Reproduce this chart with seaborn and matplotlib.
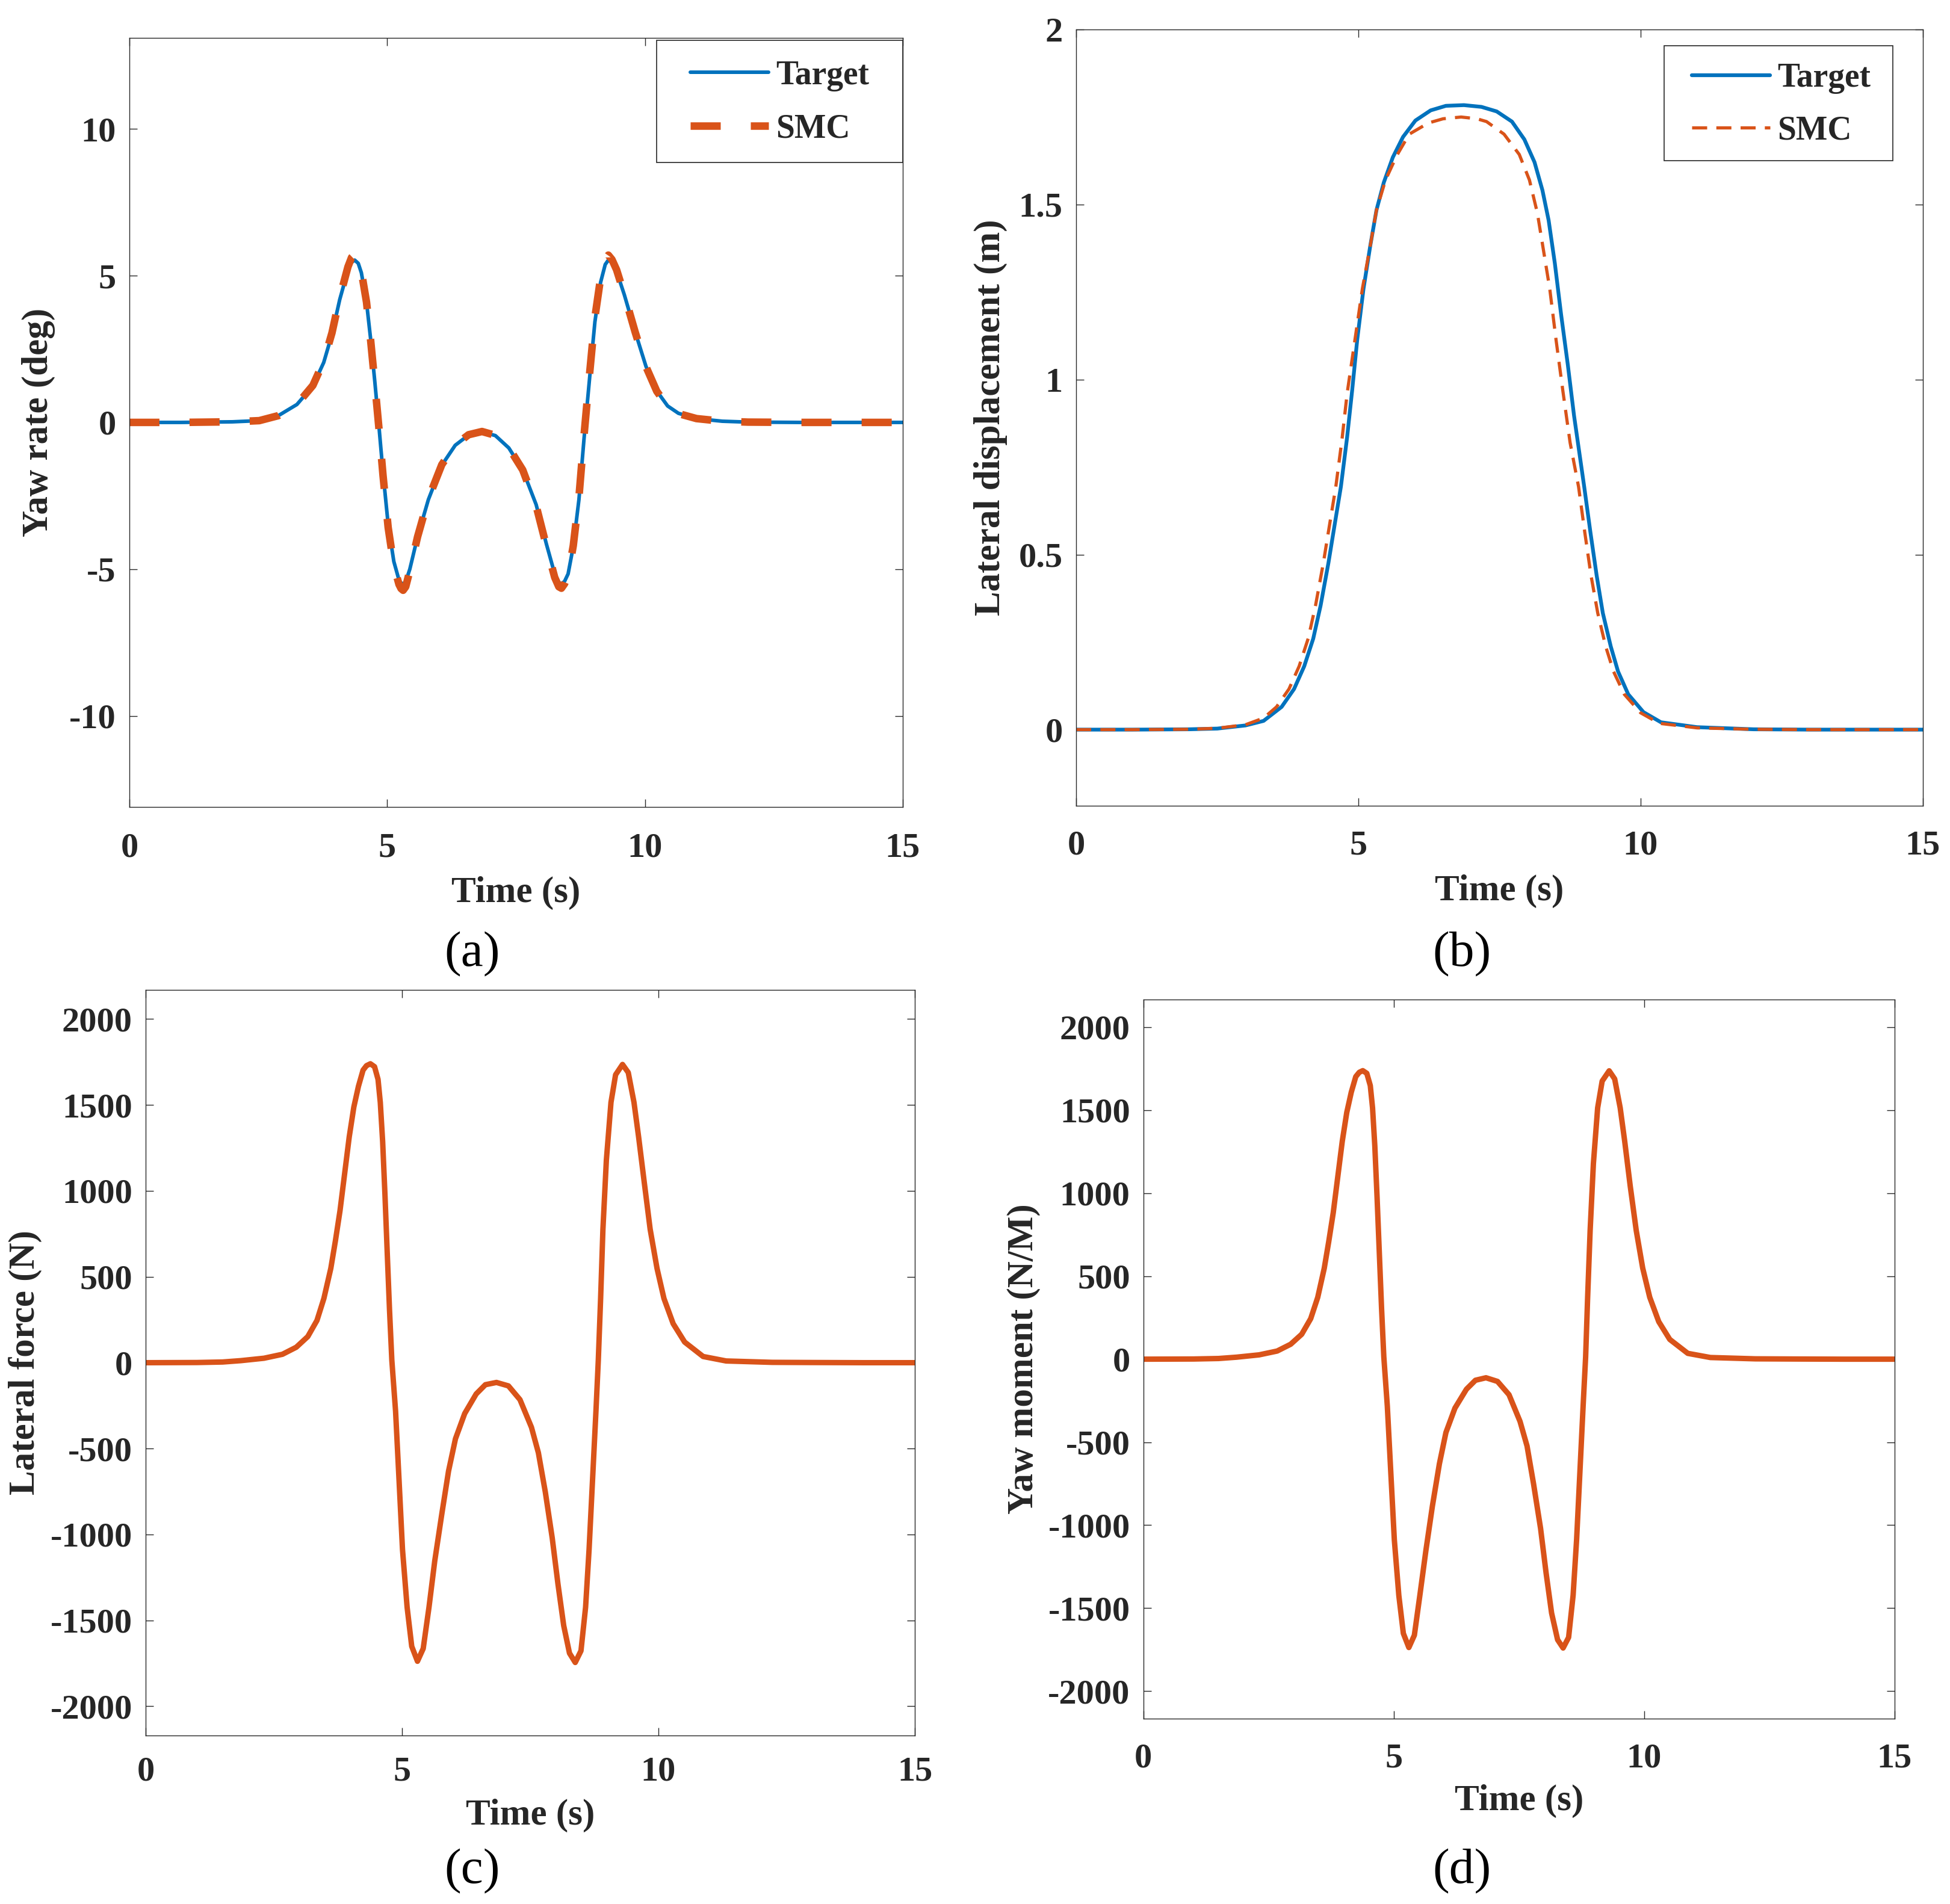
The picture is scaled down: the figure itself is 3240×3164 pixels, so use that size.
import numpy as np
import matplotlib
matplotlib.use('Agg')
import matplotlib.pyplot as plt
import seaborn as sns
from matplotlib.ticker import FixedLocator, FixedFormatter
from matplotlib.patches import Rectangle

# (a) yaw rate (deg)
t_yaw = [0, 1, 2, 2.52, 2.89, 3.25, 3.56, 3.77, 3.93, 4.08, 4.24, 4.31, 4.37, 4.44, 4.50,
         4.60, 4.68, 4.76, 4.84, 4.92, 5.02, 5.13, 5.23, 5.27, 5.31, 5.36, 5.44, 5.59, 5.80,
         6.06, 6.32, 6.58, 6.84, 7.10, 7.36, 7.63, 7.89, 8.09, 8.25, 8.33, 8.38, 8.44, 8.51,
         8.61, 8.72, 8.82, 8.93, 9.03, 9.14, 9.23, 9.29, 9.36, 9.45, 9.60, 9.81, 10.02, 10.23,
         10.44, 10.65, 11.0, 11.5, 12, 13, 14, 15]
yaw_target = [0, 0, 0.02, 0.06, 0.23, 0.61, 1.24, 2.04, 3.0, 4.18, 5.19, 5.45, 5.53, 5.42, 5.1,
              4.1, 2.84, 1.41, -0.11, -1.71, -3.48, -4.74, -5.37, -5.47, -5.5, -5.43, -5.0, -3.9, -2.63,
              -1.46, -0.78, -0.43, -0.32, -0.45, -0.87, -1.62, -2.80, -4.15, -5.16, -5.45, -5.5, -5.42, -5.16,
              -4.23, -2.63, -0.53, 1.57, 3.43, 4.77, 5.38, 5.53, 5.45, 5.15, 4.35, 3.09, 1.91, 1.07,
              0.56, 0.31, 0.13, 0.04, 0.01, 0, 0, 0]
yaw_smc = [0, 0, 0.02, 0.06, 0.23, 0.61, 1.26, 2.08, 3.05, 4.25, 5.3, 5.62, 5.72, 5.55, 5.15,
           4.1, 2.8, 1.35, -0.18, -1.8, -3.58, -4.88, -5.52, -5.66, -5.72, -5.6, -5.05, -3.9, -2.6,
           -1.44, -0.77, -0.42, -0.31, -0.44, -0.86, -1.62, -2.84, -4.22, -5.28, -5.6, -5.65, -5.5, -5.2,
           -4.2, -2.55, -0.42, 1.72, 3.58, 4.92, 5.55, 5.7, 5.55, 5.2, 4.36, 3.08, 1.9, 1.06,
           0.55, 0.3, 0.13, 0.04, 0.01, 0, 0, 0]

# (b) lateral displacement (m)
t_lat = [0, 1, 2, 2.5, 3.0, 3.32, 3.64, 3.86, 4.04, 4.20, 4.33, 4.47, 4.58, 4.69, 4.80, 4.89,
         4.98, 5.09, 5.21, 5.32, 5.45, 5.61, 5.79, 6.01, 6.28, 6.55, 6.87, 7.18, 7.45, 7.72,
         7.94, 8.12, 8.26, 8.37, 8.48, 8.59, 8.71, 8.82, 9.00, 9.11, 9.22, 9.33, 9.47, 9.60,
         9.78, 10.05, 10.36, 11, 12, 13, 15]
lat_target = [0, 0, 0.001, 0.003, 0.012, 0.025, 0.065, 0.116, 0.181, 0.260, 0.354, 0.477, 0.586,
              0.694, 0.835, 0.97, 1.115, 1.259, 1.382, 1.484, 1.563, 1.635, 1.693, 1.740, 1.769,
              1.782, 1.784, 1.779, 1.766, 1.737, 1.686, 1.621, 1.541, 1.455, 1.332, 1.187, 1.042,
              0.897, 0.694, 0.564, 0.441, 0.333, 0.238, 0.166, 0.101, 0.050, 0.021, 0.007, 0.001,
              0, 0]
t_lat_smc = [0, 1, 2, 2.5, 3.0, 3.32, 3.55, 3.77, 3.95, 4.11, 4.24, 4.38, 4.49, 4.60, 4.71,
             4.80, 4.94, 5.07, 5.21, 5.32, 5.48, 5.68, 5.90, 6.24, 6.50, 6.82, 7.10, 7.27, 7.58,
             7.85, 8.03, 8.17, 8.28, 8.39, 8.50, 8.62, 8.75, 8.90, 9.01, 9.12, 9.24, 9.38, 9.52,
             9.71, 10.0, 10.33, 11, 12, 13, 15]
lat_smc = [0, 0, 0.001, 0.004, 0.014, 0.033, 0.065, 0.116, 0.181, 0.26, 0.354, 0.477, 0.586,
           0.694, 0.83, 0.96, 1.115, 1.259, 1.382, 1.484, 1.570, 1.640, 1.701, 1.733, 1.745,
           1.750, 1.745, 1.737, 1.701, 1.643, 1.570, 1.476, 1.368, 1.259, 1.115, 0.970, 0.820,
           0.694, 0.564, 0.441, 0.333, 0.238, 0.166, 0.101, 0.048, 0.018, 0.005, 0.001, 0, 0]

# (c) lateral force (N)
t_force = [0, 1, 1.5, 1.858, 2.307, 2.667, 2.936, 3.161, 3.340, 3.475, 3.610, 3.700, 3.789,
           3.879, 3.969, 4.059, 4.149, 4.239, 4.306, 4.382, 4.463, 4.531, 4.575, 4.621, 4.666,
           4.710, 4.755, 4.800, 4.873, 4.941, 5.008, 5.098, 5.188, 5.300, 5.412, 5.525, 5.637,
           5.772, 5.906, 6.041, 6.221, 6.445, 6.625, 6.841, 7.074, 7.299, 7.523, 7.658, 7.793,
           7.928, 8.040, 8.152, 8.265, 8.377, 8.489, 8.579, 8.647, 8.714, 8.781, 8.827, 8.872,
           8.917, 8.984, 9.074, 9.164, 9.299, 9.411, 9.523, 9.613, 9.725, 9.838, 9.972, 10.107,
           10.287, 10.511, 10.871, 11.320, 12.218, 13, 14, 15]
force = [0, 1, 4, 12, 26, 49, 90, 152, 246, 374, 549, 710, 884,
         1099, 1314, 1488, 1609, 1703, 1729, 1740, 1723, 1649, 1515, 1287, 978,
         643, 307, 15, -282, -685, -1087, -1423, -1651, -1738, -1664, -1423, -1154,
         -886, -631, -443, -296, -182, -128, -115, -135, -215, -376, -524, -752,
         -1020, -1288, -1530, -1691, -1745, -1677, -1423, -1087, -685, -282, 15, 374,
         777, 1179, 1515, 1676, 1736, 1689, 1515, 1314, 1045, 777, 549, 374,
         227, 120, 36, 10, 2, 1, 0, 0]

# (d) yaw moment (N/M)
t_moment = [0, 1, 1.5, 1.86, 2.31, 2.67, 2.94, 3.16, 3.34, 3.48, 3.61, 3.70, 3.79,
            3.88, 3.97, 4.06, 4.15, 4.24, 4.31, 4.38, 4.46, 4.53, 4.575, 4.62, 4.665,
            4.71, 4.755, 4.80, 4.87, 4.94, 5.01, 5.10, 5.19, 5.30, 5.41, 5.52, 5.64,
            5.77, 5.91, 6.04, 6.22, 6.45, 6.63, 6.84, 7.07, 7.30, 7.52, 7.66, 7.79,
            7.93, 8.04, 8.15, 8.27, 8.38, 8.49, 8.58, 8.65, 8.715, 8.78, 8.83, 8.87,
            8.92, 8.985, 9.07, 9.16, 9.30, 9.41, 9.52, 9.61, 9.72, 9.84, 9.97, 10.11,
            10.29, 10.51, 10.87, 11.32, 12.22, 13, 14, 15]
moment = [0, 1, 4, 12, 26, 49, 90, 150, 244, 372, 547, 708, 882,
          1097, 1312, 1486, 1608, 1702, 1728, 1738, 1722, 1648, 1514, 1286, 977,
          642, 306, 14, -283, -686, -1088, -1424, -1652, -1737, -1663, -1422, -1153,
          -885, -630, -442, -295, -181, -127, -112, -134, -214, -375, -523, -751,
          -1019, -1287, -1529, -1690, -1740, -1676, -1422, -1086, -684, -281, 14, 373,
          776, 1178, 1514, 1675, 1737, 1688, 1514, 1313, 1044, 776, 548, 373,
          226, 119, 35, 10, 2, 1, 0, 0]

blue = '#0072BD'
orange = '#D95319'
ink = '#262626'

sns.set_style('ticks')
plt.rcParams['font.family'] = ['Liberation Serif', 'DejaVu Serif']
plt.rcParams['font.weight'] = 'bold'
plt.rcParams['axes.unicode_minus'] = False
plt.rcParams['lines.scale_dashes'] = False

fig = plt.figure(figsize=(32.41, 31.64), dpi=100)
fig.patch.set_facecolor('white')

ax_a = fig.add_axes([0.0663, 0.5762, 0.3965, 0.4039])
ax_b = fig.add_axes([0.5517, 0.5768, 0.4341, 0.4077])
ax_c = fig.add_axes([0.0747, 0.0885, 0.3943, 0.3916])
ax_d = fig.add_axes([0.5862, 0.0973, 0.3851, 0.3777])

sns.lineplot(x=t_yaw, y=yaw_target, ax=ax_a, color=blue, linewidth=4.3, label='Target', estimator=None)
sns.lineplot(x=t_yaw, y=yaw_smc, ax=ax_a, color=orange, linewidth=9, linestyle=(0, (36, 36)),
             label='SMC', estimator=None)

sns.lineplot(x=t_lat, y=lat_target, ax=ax_b, color=blue, linewidth=4.5, label='Target', estimator=None)
sns.lineplot(x=t_lat_smc, y=lat_smc, ax=ax_b, color=orange, linewidth=3.8, linestyle=(0, (18, 11)),
             label='SMC', estimator=None)

sns.lineplot(x=t_force, y=force, ax=ax_c, color=orange, linewidth=6.5, estimator=None)
sns.lineplot(x=t_moment, y=moment, ax=ax_d, color=orange, linewidth=6.5, estimator=None)

ylims = [(-13.1, 13.1), (-0.2175, 2.0), (-2170, 2170), (-2166, 2166)]
yticks = [[-10, -5, 0, 5, 10], [0, 0.5, 1, 1.5, 2],
          [-2000, -1500, -1000, -500, 0, 500, 1000, 1500, 2000],
          [-2000, -1500, -1000, -500, 0, 500, 1000, 1500, 2000]]
ytick_labels = [['-10', '-5', '0', '5', '10'], ['0', '0.5', '1', '1.5', '2'],
                ['-2000', '-1500', '-1000', '-500', '0', '500', '1000', '1500', '2000'],
                ['-2000', '-1500', '-1000', '-500', '0', '500', '1000', '1500', '2000']]
ylabels = ['Yaw rate (deg)', 'Lateral displacement (m)', 'Lateral force (N)', 'Yaw moment (N/M)']
ylabel_x = [-0.096, -0.081, -0.135, -0.137]
xlabel_y = [-0.0897, -0.088, -0.0845, -0.0907]
xpads = [31, 29, 25, 29]

for i, ax in enumerate([ax_a, ax_b, ax_c, ax_d]):
    ax.set_xlim(0, 15)
    ax.set_ylim(*ylims[i])
    ax.xaxis.set_major_locator(FixedLocator([0, 5, 10, 15]))
    ax.xaxis.set_major_formatter(FixedFormatter(['0', '5', '10', '15']))
    ax.yaxis.set_major_locator(FixedLocator(yticks[i]))
    ax.yaxis.set_major_formatter(FixedFormatter(ytick_labels[i]))
    ax.tick_params(axis='both', direction='in', length=9.4, width=1.0, color=ink,
                   labelsize=42, labelcolor=ink, top=True, right=True)
    ax.tick_params(axis='x', pad=xpads[i])
    ax.tick_params(axis='y', pad=16)
    for lab in ax.get_xticklabels() + ax.get_yticklabels():
        lab.set_fontweight('bold')
    for sp in ax.spines.values():
        sp.set_visible(True)
        sp.set_color(ink)
        sp.set_linewidth(1.0)
    ax.set_xlabel('Time (s)', fontsize=44, fontweight='bold', color=ink)
    ax.set_ylabel(ylabels[i], fontsize=44, fontweight='bold', color=ink)
    ax.xaxis.set_label_coords(0.5, xlabel_y[i])
    ax.yaxis.set_label_coords(ylabel_x[i], 0.5)

# legends: frameless entries plus a drawn box, to match the wider padding
for ax, box, anchor, spacing in [(ax_a, (0.6817, 0.838, 0.3183, 0.159), (0.725, 0.916), 0.67),
                                 (ax_b, (0.6946, 0.8307, 0.2702, 0.1483), (0.7269, 0.9034), 0.63)]:
    ax.add_patch(Rectangle(box[:2], box[2], box[3], transform=ax.transAxes, facecolor='white',
                           edgecolor=ink, linewidth=1.2, zorder=4, clip_on=False))
    leg = ax.legend(loc='center left', bbox_to_anchor=anchor, borderaxespad=0, borderpad=0,
                    fontsize=40, frameon=False, handlelength=2.34, handletextpad=0.22,
                    labelspacing=spacing)
    leg.set_zorder(6)
    for txt in leg.get_texts():
        txt.set_fontweight('bold')
        txt.set_color(ink)

for lbl, x, y in [('(a)', 0.2422, 0.4987), ('(b)', 0.7495, 0.4987),
                  ('(c)', 0.2422, 0.0173), ('(d)', 0.7495, 0.0173)]:
    fig.text(x, y, lbl, fontsize=60, fontweight='normal', color='black', ha='center', va='center')

fig.savefig('out.png', dpi=100, facecolor='white')
